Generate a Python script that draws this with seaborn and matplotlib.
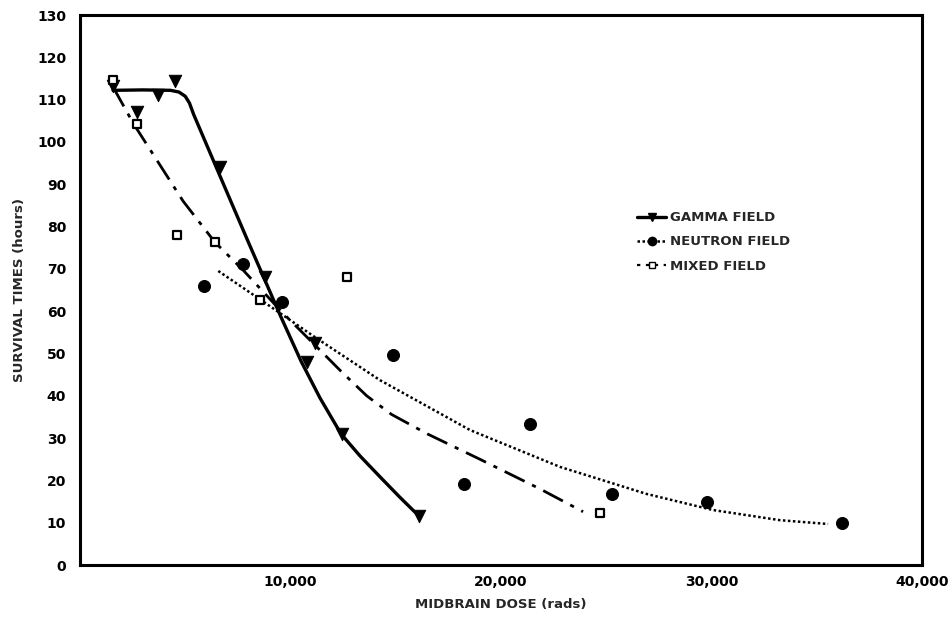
import matplotlib
matplotlib.use("Agg")
import pandas as pd
import seaborn as sns
import matplotlib.pyplot as plt
from matplotlib.lines import Line2D

# measured points (dose in rads, survival in hours)
gamma_dose = [1570, 2690, 3720, 4510, 6650, 8790, 10770, 11160, 12430, 16100]
gamma_time = [113.2, 107.1, 111.0, 114.3, 94.1, 68.0, 48.0, 52.4, 30.9, 11.6]

neutron_dose = [5890, 7760, 9580, 14880, 18260, 21380, 25290, 29770, 36210]
neutron_time = [65.9, 71.1, 62.2, 49.6, 19.1, 33.3, 16.9, 14.8, 10.0]

mixed_dose = [1580, 2690, 4590, 6410, 8550, 12670, 24700]
mixed_time = [114.6, 104.3, 78.1, 76.3, 62.6, 68.0, 12.2]

# fitted curves
gamma_fit_dose = [1570, 3000, 4300, 4700, 5000, 5200, 5400, 6500, 8000, 9550,
                  10500, 11400, 12400, 13300, 14300, 15200, 16100]
gamma_fit_time = [112.2, 112.3, 112.2, 111.8, 110.8, 109.2, 106.5, 93.7, 76.3, 58.6,
                  48.2, 39.5, 31.0, 25.8, 20.6, 16.0, 11.6]

neutron_fit_dose = [6570, 8550, 11240, 14250, 18530, 22800, 26920, 30070, 33250, 35540]
neutron_fit_time = [69.5, 62.8, 53.6, 43.7, 31.9, 23.2, 16.8, 13.0, 10.6, 9.7]

mixed_fit_dose = [1570, 2530, 4900, 6410, 7750, 9650, 11240, 12400, 13620, 14800,
                  16500, 19000, 21850, 23900]
mixed_fit_time = [113.0, 104.4, 86.0, 76.3, 69.7, 59.5, 51.6, 45.8, 40.0, 35.6,
                  31.0, 25.0, 18.0, 12.6]

x_ticks = [10000, 20000, 30000, 40000]
x_labels = ["10,000", "20,000", "30,000", "40,000"]
y_ticks = list(range(0, 131, 10))

sns.set_style("white")
plt.rcParams["font.family"] = ["DejaVu Sans"]
plt.rcParams["font.weight"] = "bold"

fig = plt.figure(figsize=(9.5, 6.26), dpi=100)
ax = fig.add_axes([0.0842, 0.0974, 0.8863, 0.8786])

sns.lineplot(x=gamma_fit_dose, y=gamma_fit_time, ax=ax, color="black",
             linewidth=2.4, linestyle="-", sort=False)
sns.lineplot(x=neutron_fit_dose, y=neutron_fit_time, ax=ax, color="black",
             linewidth=1.8, linestyle=(0, (1, 1)), sort=False)
sns.lineplot(x=mixed_fit_dose, y=mixed_fit_time, ax=ax, color="black",
             linewidth=2.0, linestyle=(0, (8, 3, 1.5, 3)), sort=False)

sns.scatterplot(x=gamma_dose, y=gamma_time, ax=ax, marker="v", s=80,
                color="black", edgecolor="black", zorder=5)
sns.scatterplot(x=neutron_dose, y=neutron_time, ax=ax, marker="o", s=75,
                color="black", edgecolor="black", zorder=5)
sns.scatterplot(x=mixed_dose, y=mixed_time, ax=ax, marker="s", s=38,
                facecolor="white", edgecolor="black", linewidth=1.6, zorder=5)

ax.set_xlim(0, 40000)
ax.set_ylim(0, 130)
ax.set_xticks(x_ticks)
ax.set_xticklabels(x_labels, fontsize=10, fontweight="bold")
ax.set_yticks(y_ticks)
ax.set_yticklabels([str(v) for v in y_ticks], fontsize=10, fontweight="bold")
ax.tick_params(direction="in", length=6, width=1.5, colors="black")
ax.tick_params(axis="x", pad=7)
ax.tick_params(axis="y", pad=10)

for sp in ax.spines.values():
    sp.set_visible(True)
    sp.set_color("black")
    sp.set_linewidth(2.2)

ax.set_xlabel("MIDBRAIN DOSE (rads)", fontsize=9.5, fontweight="bold", labelpad=7)
ax.set_ylabel("SURVIVAL TIMES (hours)", fontsize=9.5, fontweight="bold", labelpad=8)

handles = [
    Line2D([], [], color="black", linewidth=2.4, linestyle="-", marker="v", markersize=6),
    Line2D([], [], color="black", linewidth=1.8, linestyle=(0, (1, 1)), marker="o", markersize=6),
    Line2D([], [], color="black", linewidth=1.6, linestyle=(0, (1.5, 2.5)), marker="s",
           markersize=5, markerfacecolor="white"),
]
ax.legend(handles, ["GAMMA FIELD", "NEUTRON FIELD", "MIXED FIELD"],
          loc="upper left", bbox_to_anchor=(0.648, 0.665), frameon=False,
          prop={"weight": "bold", "size": 9.5}, handlelength=2.2,
          handletextpad=0.3, labelspacing=0.85)

plt.savefig("out.png", dpi=100)
